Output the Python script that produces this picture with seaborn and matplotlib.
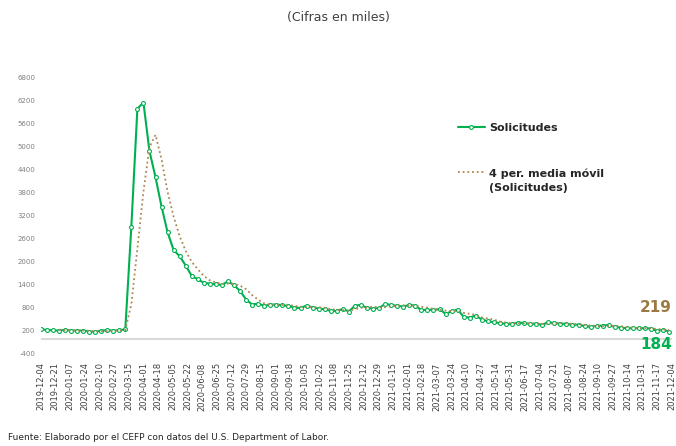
import pandas as pd
import numpy as np
import matplotlib.pyplot as plt
import seaborn as sns

# solicitudes semanales (miles)
fechas = pd.date_range("2019-12-04", periods=105, freq="7D")
solicitudes = [
    244, 227, 218, 209, 227, 209, 209, 209, 183, 174, 209, 218, 209, 218, 244,
    2914, 5984, 6144, 4879, 4201, 3434, 2764, 2304, 2144, 1900,
    1630, 1545, 1450, 1432, 1414, 1396, 1492, 1388, 1240, 1016,
    886, 912, 850, 886, 886, 868, 850, 802, 798, 860,
    808, 782, 764, 720, 720, 772, 704, 860, 876, 798,
    782, 798, 902, 876, 855, 834, 876, 860, 738, 756,
    738, 772, 642, 712, 756, 564, 548, 600, 496, 452,
    426, 405, 382, 382, 418, 408, 374, 392, 356, 434,
    400, 392, 382, 356, 366, 325, 304, 330, 340, 356,
    304, 288, 270, 270, 270, 270, 262, 198, 232, 184,
]
ticks_x = pd.date_range("2019-12-04", "2021-12-04", freq="17D")
ticks_y = np.arange(-400, 6801, 600)

verde = "#00B050"
cafe = "#AD8651"
cafe_txt = "#9C7942"

df = pd.DataFrame({"fecha": fechas, "solicitudes": solicitudes})
df["media_movil"] = df["solicitudes"].rolling(4).mean()

sns.set_style("white")
plt.rcParams["font.family"] = ["DejaVu Sans"]

fig = plt.figure(figsize=(6.76, 4.46), dpi=100)
ax = fig.add_axes([0.0602, 0.2063, 0.9335, 0.6204])

ax.axhline(0, color="#d9d9d9", lw=1.5, zorder=0)

sns.lineplot(data=df, x="fecha", y="solicitudes", ax=ax, color=verde, lw=1.5,
             marker="o", markersize=2.8, markerfacecolor="white",
             markeredgecolor=verde, markeredgewidth=0.8, label="Solicitudes")
sns.lineplot(data=df.dropna(), x="fecha", y="media_movil", ax=ax, color=cafe,
             lw=1.3, linestyle=(0, (1, 1.6)),
             label="4 per. media móvil\n(Solicitudes)")

ax.set_xlim(ticks_x[0], ticks_x[-1])
ax.set_ylim(-400, 6800)
ax.set_yticks(ticks_y)
ax.set_yticklabels([str(v) for v in ticks_y], fontsize=5, color="#808080")
ax.set_xticks(ticks_x)
ax.set_xticklabels([d.strftime("%Y-%m-%d") for d in ticks_x], rotation=90,
                   fontsize=6, color="#404040")
ax.tick_params(axis="x", length=0, pad=6)
ax.tick_params(axis="y", length=0, pad=4)
ax.set_xlabel("")
ax.set_ylabel("")
for s in ax.spines.values():
    s.set_visible(False)

ley = ax.legend(loc="upper left", bbox_to_anchor=(452 / 676, 1 - 117 / 446),
                bbox_transform=fig.transFigure, frameon=False, borderpad=0,
                numpoints=1, handlelength=2.5, handletextpad=0.35,
                labelspacing=3.2, prop={"weight": "bold", "size": 8})
for t in ley.get_texts():
    t.set_linespacing(1.5)
# la muestra de la media movil va junto a la primera linea del texto
filas = ley._legend_handle_box.get_children()[0].get_children()
filas[1].align = "top"

ax.annotate(f"{df['media_movil'].iloc[-1]:.0f}",
            xy=(df["fecha"].iloc[-1], df["media_movil"].iloc[-1]),
            xytext=(-13, 23), textcoords="offset pixels", ha="center",
            va="center", fontsize=11, fontweight="bold", color=cafe_txt)
ax.annotate(f"{df['solicitudes'].iloc[-1]:.0f}",
            xy=(df["fecha"].iloc[-1], df["solicitudes"].iloc[-1]),
            xytext=(-13, -13), textcoords="offset pixels", ha="center",
            va="center", fontsize=11, fontweight="bold", color=verde)

fig.text(0.5, 1 - 18 / 446, "(Cifras en miles)", ha="center", va="center",
         fontsize=9, color="#404040")
fig.text(8 / 676, 1 - 437 / 446,
         "Fuente: Elaborado por el CEFP con datos del U.S. Department of Labor.",
         ha="left", va="center", fontsize=6.5, color="#262626")

fig.savefig("out.png", dpi=100)
